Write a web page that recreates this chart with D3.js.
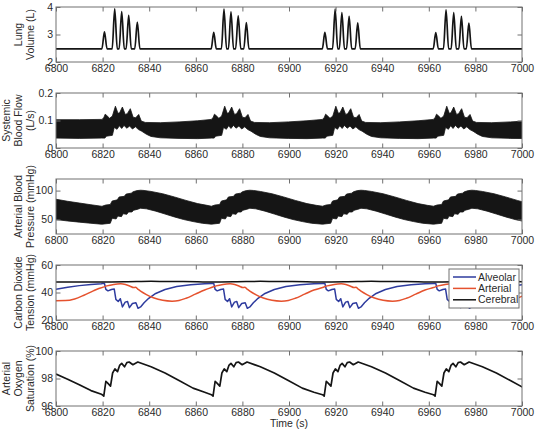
<!DOCTYPE html>
<html>
<head>
<meta charset="utf-8">
<script src="https://cdn.jsdelivr.net/npm/d3@7"></script>
<style>
  body { margin: 0; background: #fff; }
  text { font-family: "Liberation Sans", Arial, sans-serif; }
</style>
</head>
<body>
<svg id="chart" width="536" height="435"></svg>
<script>
// ---- data ----
const timeTicks = [6800, 6820, 6840, 6860, 6880, 6900, 6920, 6940, 6960, 6980, 7000];

// lung volume: breath peaks
const breathTimes = [6820.8, 6825.2, 6828.2, 6831.2, 6834.9, 6867.7, 6872.1, 6875.1, 6878.2, 6881.7,
                     6915.4, 6919.8, 6922.7, 6925.8, 6929.5, 6963.0, 6967.4, 6970.7, 6974.0, 6977.2];
const breathPeaks = [3.1, 3.93, 3.83, 3.7, 3.45, 3.08, 3.92, 3.82, 3.68, 3.43,
                     3.08, 3.92, 3.8, 3.66, 3.42, 3.07, 3.9, 3.8, 3.66, 3.41];
const lungBaseline = 2.48;
const lungTicks = [2, 3, 4];

// start of each breathing cluster (s); the other signals repeat per cluster
const cycleOnsets = [6820.8, 6867.7, 6915.4, 6963.0];

// systemic blood flow band (L/s): [time or offset, value]
const flowLeadUpper = [[6800, 0.103], [6810, 0.103], [6819.5, 0.104]];
const flowLeadLower = [[6800, 0.036], [6810, 0.035], [6819.5, 0.036]];
const flowCycleUpper = [[-1, 0.104], [-0.2, 0.112], [0.3, 0.123], [1, 0.118], [2.2, 0.108], [3.4, 0.116],
  [4.7, 0.152], [5.8, 0.126], [6.5, 0.128], [7.7, 0.149], [8.9, 0.122], [9.8, 0.125], [11.1, 0.143],
  [12.3, 0.112], [13.4, 0.11], [14.7, 0.122], [15.8, 0.098], [17.5, 0.093], [24, 0.092], [32, 0.095],
  [40, 0.099], [47, 0.103]];
const flowCycleLower = [[-1, 0.036], [0.2, 0.036], [0.8, 0.043], [3.4, 0.046], [4.2, 0.075], [5.4, 0.068],
  [6.4, 0.081], [7.4, 0.071], [8.4, 0.082], [9.6, 0.072], [10.8, 0.08], [12, 0.069], [13.3, 0.077],
  [14.6, 0.067], [16, 0.061], [18, 0.05], [20, 0.042], [24, 0.037], [32, 0.035], [40, 0.034], [47, 0.035]];
const flowTicks = [0, 0.1, 0.2];

// arterial blood pressure band (mmHg)
const bpLeadUpper = [[6800, 85], [6805, 81.5], [6810, 78.5], [6815, 75.5], [6819.5, 73]];
const bpLeadLower = [[6800, 50], [6805, 47.5], [6810, 45.5], [6815, 43.5], [6819.5, 42]];
const bpCycleUpper = [[-1, 73], [0.5, 75], [2.5, 76], [3.3, 82], [5.5, 84], [6.3, 89], [8.5, 90], [9.3, 94],
  [11.5, 95.5], [12.3, 98], [14, 100], [15.5, 100.6], [17, 100.2], [20, 98.5], [25, 94.5], [30, 89],
  [35, 83], [40, 77.5], [44, 74.5], [47, 73]];
const bpCycleLower = [[-1, 42], [2.5, 43.5], [3.3, 52], [5, 51], [5.7, 56], [7.3, 55], [8, 60], [9.6, 59],
  [10.3, 63], [11.8, 63], [12.5, 66], [14, 67.5], [15.5, 69.5], [18, 68.5], [22, 64.5], [26, 59.5],
  [30, 54.5], [34, 50], [38, 46.5], [42, 43.5], [47, 42]];
const bpTicks = [50, 100];

// CO2 tension (mmHg)
const alvLead = [[6800, 42.3], [6805, 43.8], [6810, 45], [6815, 45.9], [6819.5, 46.4]];
const alvCycle = [[-1, 46.5], [0, 46.6], [0.6, 42.3], [1.5, 41.2], [3, 42.2], [4.2, 42.5], [4.9, 35],
  [5.9, 33.5], [6.8, 35.5], [7.7, 29.5], [8.9, 33], [9.9, 33.5], [10.7, 29], [12, 32], [13.5, 32.5],
  [14.4, 28.5], [15.5, 29.5], [17, 32.5], [19, 35.8], [22, 39.3], [26, 42.2], [31, 44.3], [37, 45.6],
  [43, 46.3], [47, 46.6]];
const artLead = [[6800, 34], [6804, 34.1], [6808, 35.3], [6812, 38], [6816, 41.2], [6819.5, 43.5]];
const artCycle = [[-1, 43.6], [1, 44.8], [4, 45.9], [7, 46.3], [9, 45.8], [11, 44.6], [12.5, 43.6],
  [13.3, 43.8], [14.3, 42.5], [15.5, 41], [18, 38.5], [21, 36.2], [25, 34.3], [29, 33.7], [32, 34.2],
  [35, 35.8], [39, 38.8], [43, 41.8], [47, 43.8]];
const cerLead = [[6800, 47.7], [6819.5, 47.6]];
const cerCycle = [[-1, 47.6], [10, 47.8], [20, 48.1], [30, 48], [40, 47.8], [47, 47.6]];
const co2Names = ["Alveolar", "Arterial", "Cerebral"];
const co2Colors = ["#2e3b9e", "#e5522e", "#111"];
const co2Ticks = [20, 40, 60];

// arterial oxygen saturation (%)
const satLead = [[6800, 98.32], [6805, 97.95], [6810, 97.55], [6815, 97.12], [6819.5, 96.85]];
const satCycle = [[-1, 96.82], [-0.3, 96.72], [0.6, 97.8], [1.5, 97.65], [2.6, 97.45], [3.5, 98.4],
  [4.5, 98.7], [5.6, 98.5], [6.5, 98.95], [7.4, 99.1], [8.6, 98.85], [9.6, 99.15], [10.6, 99.2],
  [12.2, 99.0], [14.3, 99.2], [20, 98.85], [26, 98.4], [32, 97.85], [38, 97.3], [43, 97.0], [47, 96.82]];
const satTicks = [96, 98, 100];

// ---- helpers ----
function buildSeries(lead, cycle) {
  const pts = lead.slice();
  cycleOnsets.forEach((t0, i) => {
    const limit = i + 1 < cycleOnsets.length ? cycleOnsets[i + 1] - 1 : Infinity;
    cycle.forEach(([dt, v]) => {
      if (t0 + dt < limit) pts.push([t0 + dt, v]);
    });
  });
  return pts;
}

const lungPts = [[6800, lungBaseline]];
breathTimes.forEach((t, i) => {
  lungPts.push([t - 1.1, lungBaseline], [t, breathPeaks[i]], [t + 1.1, lungBaseline]);
});
lungPts.push([7000, lungBaseline]);

const svg = d3.select("#chart");
const left = 56, plotW = 466, panelH = 55;
const panelTop = [7, 93, 179, 265, 351];

const x = d3.scaleLinear().domain([6800, 7000]).range([left, left + plotW]);

const panels = [
  { dom: [2, 4], ticks: lungTicks, label: ["Lung", "Volume (L)"] },
  { dom: [0, 0.2], ticks: flowTicks, label: ["Systemic", "Blood Flow", "(L/s)"] },
  { dom: [25, 120], ticks: bpTicks, label: ["Arterial Blood", "Pressure (mmHg)"] },
  { dom: [20, 60], ticks: co2Ticks, label: ["Carbon Dioxide", "Tension (mmHg)"] },
  { dom: [96, 100], ticks: satTicks, label: ["Arterial", "Oxygen", "Saturation (%)"] }
];

const axisColor = "#707070";
const tickLen = 4.5;

panels.forEach((p, i) => {
  const top = panelTop[i], bottom = top + panelH;
  p.y = d3.scaleLinear().domain(p.dom).range([bottom, top]);
  p.g = svg.append("g");
  svg.append("clipPath").attr("id", "clip" + i)
    .append("rect").attr("x", left).attr("y", top).attr("width", plotW).attr("height", panelH);
  p.plot = p.g.append("g").attr("clip-path", `url(#clip${i})`);
});

function drawLine(p, pts, color, width, curve) {
  p.plot.append("path")
    .attr("d", d3.line().x(d => x(d[0])).y(d => p.y(d[1])).curve(curve || d3.curveLinear)(pts))
    .attr("fill", "none").attr("stroke", color).attr("stroke-width", width)
    .attr("stroke-linejoin", "round");
}

function drawBand(p, upper, lower) {
  const ring = upper.concat(lower.slice().reverse());
  p.plot.append("path")
    .attr("d", d3.line().x(d => x(d[0])).y(d => p.y(d[1])).curve(d3.curveLinearClosed)(ring))
    .attr("fill", "#151515").attr("stroke", "#151515").attr("stroke-width", 0.8);
}

// panel 1
drawLine(panels[0], lungPts, "#151515", 1.7, d3.curveMonotoneX);
// panel 2
drawBand(panels[1], buildSeries(flowLeadUpper, flowCycleUpper), buildSeries(flowLeadLower, flowCycleLower));
// panel 3
drawBand(panels[2], buildSeries(bpLeadUpper, bpCycleUpper), buildSeries(bpLeadLower, bpCycleLower));
// panel 4
drawLine(panels[3], buildSeries(alvLead, alvCycle), co2Colors[0], 1.5);
drawLine(panels[3], buildSeries(artLead, artCycle), co2Colors[1], 1.5, d3.curveMonotoneX);
drawLine(panels[3], buildSeries(cerLead, cerCycle), co2Colors[2], 1.5, d3.curveMonotoneX);
// panel 5
drawLine(panels[4], buildSeries(satLead, satCycle), "#151515", 1.7);

// axes
panels.forEach((p, i) => {
  const top = panelTop[i], bottom = top + panelH;
  const axes = [
    p.g.append("g").attr("transform", `translate(0,${bottom})`)
      .call(d3.axisBottom(x).tickValues(timeTicks).tickSize(-tickLen).tickPadding(3).tickFormat(d3.format("d"))),
    p.g.append("g").attr("transform", `translate(0,${top})`)
      .call(d3.axisTop(x).tickValues(timeTicks).tickSize(-tickLen).tickFormat("")),
    p.g.append("g").attr("transform", `translate(${left},0)`)
      .call(d3.axisLeft(p.y).tickValues(p.ticks).tickSize(-tickLen).tickPadding(3).tickFormat(d => String(d))),
    p.g.append("g").attr("transform", `translate(${left + plotW},0)`)
      .call(d3.axisRight(p.y).tickValues(p.ticks).tickSize(-tickLen).tickFormat(""))
  ];
  axes.forEach(a => {
    a.select(".domain").remove();
    a.selectAll(".tick line").attr("stroke", axisColor);
    a.selectAll("text").attr("fill", "#2a2a2a").style("font-size", "10.5px");
  });
  p.g.append("rect").attr("x", left).attr("y", top).attr("width", plotW).attr("height", panelH)
    .attr("fill", "none").attr("stroke", axisColor).attr("stroke-width", 1);

  // y label, one text per line
  const n = p.label.length;
  const cy = (top + bottom) / 2;
  p.label.forEach((s, k) => {
    const lx = 30 - (n - 1 - k) * 11.6;
    p.g.append("text")
      .attr("transform", `translate(${lx},${cy}) rotate(-90)`)
      .attr("text-anchor", "middle").attr("dy", "0.35em")
      .attr("fill", "#2a2a2a").style("font-size", "10.5px").text(s);
  });
});

// x label
svg.append("text").attr("x", left + plotW / 2).attr("y", 427)
  .attr("text-anchor", "middle").attr("fill", "#2a2a2a").style("font-size", "10.5px").text("Time (s)");

// legend in CO2 panel
const lg = svg.append("g").attr("transform", "translate(449,269)");
lg.append("rect").attr("width", 70).attr("height", 39)
  .attr("fill", "#fff").attr("stroke", axisColor).attr("stroke-width", 1);
co2Names.forEach((name, k) => {
  const yy = 8 + k * 11.4;
  lg.append("line").attr("x1", 4).attr("x2", 27).attr("y1", yy).attr("y2", yy)
    .attr("stroke", co2Colors[k]).attr("stroke-width", 1.5);
  lg.append("text").attr("x", 29).attr("y", yy).attr("dy", "0.35em")
    .attr("fill", "#2a2a2a").style("font-size", "10.5px").text(name);
});
</script>
</body>
</html>
